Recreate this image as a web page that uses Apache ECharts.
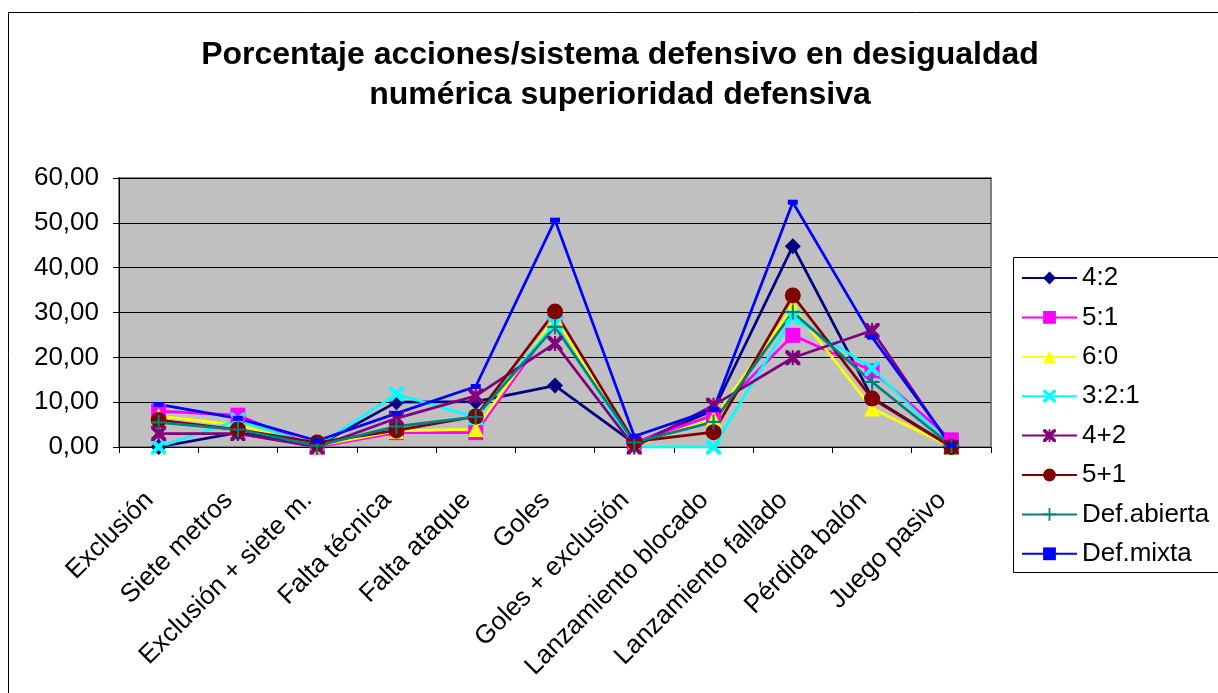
<!DOCTYPE html>
<html>
<head>
<meta charset="utf-8">
<script src="https://cdn.jsdelivr.net/npm/echarts@6/dist/echarts.min.js"></script>
<style>
  html, body { margin: 0; padding: 0; background: #fff; }
  #chart { width: 1218px; height: 693px; }
</style>
</head>
<body>
<div id="chart"></div>
<script>
const categories = ['Exclusión', 'Siete metros', 'Exclusión + siete m.', 'Falta técnica', 'Falta ataque',
  'Goles', 'Goles + exclusión', 'Lanzamiento blocado', 'Lanzamiento fallado', 'Pérdida balón', 'Juego pasivo']

const s42 = [0, 3.2, 0.3, 10.0, 10.1, 13.7, 0.8, 8.2, 44.8, 11.0, 0]
const s51 = [8.0, 7.1, 0, 3.2, 3.2, 28.0, 1.0, 7.1, 24.9, 17.0, 1.6]
const s60 = [6.9, 4.9, 0.3, 3.6, 4.0, 28.8, 0.3, 6.3, 31.2, 8.6, 0]
const s321 = [0, 6.0, 0.2, 11.8, 6.6, 27.5, 0, 0, 29.0, 17.5, 0]
const s4p2 = [3.0, 3.0, 0, 6.4, 11.4, 23.1, 0, 9.3, 19.9, 26.0, 0]
const s5p1 = [6.0, 3.9, 1.0, 3.7, 6.8, 30.2, 1.2, 3.3, 33.8, 10.8, 0]
const defAbierta = [5.5, 3.9, 0.3, 4.6, 6.7, 26.8, 1.0, 5.6, 30.1, 14.5, 0.3]
const defMixta = [9.5, 6.4, 1.4, 7.5, 13.5, 50.6, 2.4, 8.4, 54.6, 24.5, 0.4]

const yTicks = { min: 0, max: 60, interval: 10 }

const FONT = 'Liberation Sans, Arial, sans-serif'

// simbolos tipo Excel
const xPath = 'path://M0,0 L2,0 L5,3 L8,0 L10,0 L10,2 L7,5 L10,8 L10,10 L8,10 L5,7 L2,10 L0,10 L0,8 L3,5 L0,2 Z'
const starPath = 'path://M0,0 L2,0 L5,3 L8,0 L10,0 L10,2 L7,5 L10,8 L10,10 L8,10 L5,7 L2,10 L0,10 L0,8 L3,5 L0,2 Z M4.3,0 L5.7,0 L5.7,10 L4.3,10 Z'
const plusPath = 'path://M4.3,0 L5.7,0 L5.7,4.3 L10,4.3 L10,5.7 L5.7,5.7 L5.7,10 L4.3,10 L4.3,5.7 L0,5.7 L0,4.3 L4.3,4.3 Z'

function serie(name, data, color, symbol, size) {
  return {
    name: name,
    type: 'line',
    data: data,
    symbol: symbol,
    symbolSize: size,
    showAllSymbol: true,
    lineStyle: { color: color, width: 2.75 },
    itemStyle: { color: color },
    emphasis: { disabled: true }
  }
}

const chart = echarts.init(document.getElementById('chart'))
chart.setOption({
  animation: false,
  backgroundColor: '#fff',
  textStyle: { fontFamily: FONT },
  title: {
    text: 'Porcentaje acciones/sistema defensivo en desigualdad\nnumérica superioridad defensiva',
    left: 620,
    top: 35,
    padding: 0,
    textAlign: 'center',
    textStyle: { fontFamily: FONT, fontSize: 32, fontWeight: 'bold', color: '#000', lineHeight: 40 }
  },
  graphic: [{
    // marco exterior del grafico
    type: 'rect',
    shape: { x: 8.5, y: 12.5, width: 1400, height: 900 },
    style: { fill: 'none', stroke: '#000', lineWidth: 1 },
    silent: true
  }, {
    // marco de la leyenda (sale por la derecha)
    type: 'rect',
    shape: { x: 1013.5, y: 257.5, width: 400, height: 315 },
    style: { fill: 'none', stroke: '#000', lineWidth: 1 },
    silent: true
  }],
  legend: {
    orient: 'vertical',
    left: 1013,
    top: 257,
    padding: [8, 8, 6, 8],
    itemGap: 13.4,
    itemWidth: 55,
    itemHeight: 16,
    textStyle: { fontFamily: FONT, fontSize: 26, color: '#000', lineHeight: 26 }
  },
  grid: {
    left: 119,
    right: 227,
    top: 178,
    bottom: 246,
    show: true,
    backgroundColor: '#c0c0c0',
    borderColor: '#808080',
    borderWidth: 2
  },
  xAxis: {
    type: 'category',
    data: categories,
    boundaryGap: true,
    axisLine: { lineStyle: { color: '#000', width: 1 } },
    axisTick: { show: true, length: 6, lineStyle: { color: '#000' } },
    axisLabel: {
      rotate: 45, margin: 40, interval: 0, padding: [0, 13, 0, 0],
      fontFamily: FONT, fontSize: 26, color: '#000'
    },
    splitLine: { show: false }
  },
  yAxis: {
    type: 'value',
    min: yTicks.min,
    max: yTicks.max,
    interval: yTicks.interval,
    axisLine: { show: true, lineStyle: { color: '#000', width: 1 } },
    axisTick: { show: true, length: 6, lineStyle: { color: '#000' } },
    axisLabel: {
      margin: 20, fontFamily: FONT, fontSize: 26, color: '#000',
      formatter: v => v.toFixed(2).replace('.', ',')
    },
    splitLine: { show: true, lineStyle: { color: '#000', width: 1 } }
  },
  series: [
    serie('4:2', s42, '#000080', 'diamond', 16),
    serie('5:1', s51, '#ff00ff', 'rect', 15),
    serie('6:0', s60, '#ffff00', 'triangle', 16),
    serie('3:2:1', s321, '#00ffff', xPath, 15),
    serie('4+2', s4p2, '#800080', starPath, 15),
    serie('5+1', s5p1, '#800000', 'circle', 16),
    serie('Def.abierta', defAbierta, '#008080', plusPath, 15),
    serie('Def.mixta', defMixta, '#0000ff', 'rect', [10, 5])
  ]
})
</script>
</body>
</html>
